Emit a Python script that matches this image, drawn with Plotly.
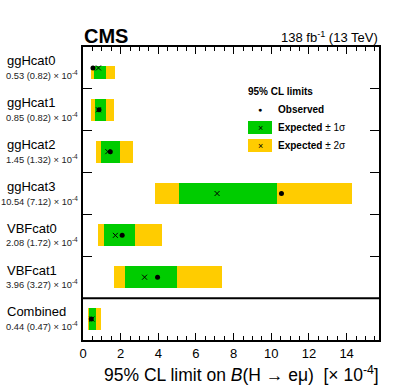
import plotly.graph_objects as go

categories = ["ggHcat0", "ggHcat1", "ggHcat2", "ggHcat3", "VBFcat0", "VBFcat1", "Combined"]
observed = [0.53, 0.85, 1.45, 10.54, 2.08, 3.96, 0.44]
expected = [0.82, 0.82, 1.32, 7.12, 1.72, 3.27, 0.47]
lo2 = [0.44, 0.44, 0.70, 3.80, 0.79, 1.62, 0.24]
lo1 = [0.61, 0.65, 0.93, 5.10, 1.14, 2.24, 0.33]
hi1 = [1.23, 1.21, 1.94, 10.29, 2.77, 4.99, 0.70]
hi2 = [1.71, 1.66, 2.65, 14.30, 4.21, 7.38, 0.95]
xticks = [0, 2, 4, 6, 8, 10, 12, 14]

n = len(categories)
ypos = [n - 1 - i for i in range(n)]  # top to bottom

GREEN = "#00cc00"
YELLOW = "#ffcc00"
FONT = "Liberation Sans, Arial, Helvetica, sans-serif"

# bar widths (first row partly hidden in the reference)
widths = [0.31] + [0.52] * (n - 1)
offsets = [-0.26] * n

fig = go.Figure()
fig.add_trace(go.Bar(
    orientation="h", y=ypos, base=lo2, x=[h - l for h, l in zip(hi2, lo2)],
    width=widths, offset=offsets, marker=dict(color=YELLOW, line=dict(width=0)),
    showlegend=False, hoverinfo="skip"))
fig.add_trace(go.Bar(
    orientation="h", y=ypos, base=lo1, x=[h - l for h, l in zip(hi1, lo1)],
    width=widths, offset=offsets, marker=dict(color=GREEN, line=dict(width=0)),
    showlegend=False, hoverinfo="skip"))
fig.add_trace(go.Scatter(
    x=expected, y=ypos, mode="markers",
    marker=dict(symbol="x-thin", size=5, line=dict(color="black", width=1)),
    showlegend=False))
fig.add_trace(go.Scatter(
    x=observed, y=ypos, mode="markers",
    marker=dict(symbol="circle", size=5, color="black"),
    showlegend=False))

L, R, T, B = 83, 20, 47, 47
W, H = 399, 387
PW, PH = W - L - R, H - T - B


def px(xp):
    return (xp - L) / PW


def py(yp):
    return (H - B - yp) / PH


ann = []
for i, c in enumerate(categories):
    yc = ypos[i]
    ann.append(dict(x=px(5), y=yc + 0.17, xref="paper", yref="y", text=c,
                    showarrow=False, xanchor="left", yanchor="middle",
                    font=dict(size=13, color="black", family=FONT)))
    ann.append(dict(x=px(80), y=yc - 0.17, xref="paper", yref="y",
                    text=f"{observed[i]:.2f} ({expected[i]:.2f}) × 10<sup>-4</sup>",
                    showarrow=False, xanchor="right", yanchor="middle",
                    font=dict(size=9.3, color="#222", family=FONT)))

ann += [
    dict(x=px(82), y=py(36), xref="paper", yref="paper", text="<b>CMS</b>",
         showarrow=False, xanchor="left", yanchor="middle",
         font=dict(size=20, color="black", family=FONT)),
    dict(x=px(380), y=py(37), xref="paper", yref="paper",
         text="138 fb<sup>-1</sup> (13 TeV)", showarrow=False,
         xanchor="right", yanchor="middle",
         font=dict(size=13, color="black", family=FONT)),
    dict(x=px(381), y=py(374), xref="paper", yref="paper",
         text="95% CL limit on <i>B</i>(H → eμ)  [× 10<sup>-4</sup>]",
         showarrow=False, xanchor="right", yanchor="middle",
         font=dict(size=17.5, color="black", family=FONT)),
    dict(x=px(246), y=py(91), xref="paper", yref="paper", text="<b>95% CL limits</b>",
         showarrow=False, xanchor="left", yanchor="middle",
         font=dict(size=10, color="black", family=FONT)),
    dict(x=px(276), y=py(109), xref="paper", yref="paper", text="<b>Observed</b>",
         showarrow=False, xanchor="left", yanchor="middle",
         font=dict(size=10, color="black", family=FONT)),
    dict(x=px(276), y=py(127.5), xref="paper", yref="paper", text="<b>Expected</b> ± 1σ",
         showarrow=False, xanchor="left", yanchor="middle",
         font=dict(size=10, color="black", family=FONT)),
    dict(x=px(276), y=py(145.5), xref="paper", yref="paper", text="<b>Expected</b> ± 2σ",
         showarrow=False, xanchor="left", yanchor="middle",
         font=dict(size=10, color="black", family=FONT)),
    dict(x=px(260), y=py(109), xref="paper", yref="paper", text="●",
         showarrow=False, xanchor="center", yanchor="middle",
         font=dict(size=7, color="black", family=FONT)),
    dict(x=px(260), y=py(127.5), xref="paper", yref="paper", text="×",
         showarrow=False, xanchor="center", yanchor="middle",
         font=dict(size=9, color="black", family=FONT)),
    dict(x=px(260), y=py(145.5), xref="paper", yref="paper", text="×",
         showarrow=False, xanchor="center", yanchor="middle",
         font=dict(size=9, color="black", family=FONT)),
]

shapes = [
    dict(type="rect", xref="paper", yref="paper", x0=px(248), x1=px(272),
         y0=py(121), y1=py(134), fillcolor=GREEN, line=dict(width=0), layer="below"),
    dict(type="rect", xref="paper", yref="paper", x0=px(248), x1=px(272),
         y0=py(139), y1=py(152), fillcolor=YELLOW, line=dict(width=0), layer="below"),
    dict(type="line", xref="paper", yref="y", x0=0, x1=1, y0=0.5, y1=0.5,
         line=dict(color="black", width=2)),
]

fig.update_layout(
    width=W, height=H,
    margin=dict(l=L, r=R, t=T, b=B),
    paper_bgcolor="white", plot_bgcolor="white",
    barmode="overlay", bargap=0,
    showlegend=False,
    font=dict(family=FONT, color="black"),
    annotations=ann, shapes=shapes,
    xaxis=dict(range=[0, 15.72], tickvals=xticks, ticks="inside", ticklen=7,
               tickwidth=1, tickcolor="black",
               minor=dict(dtick=0.5, ticks="inside", ticklen=4, tickcolor="black", showgrid=False),
               mirror="allticks", showline=True, linewidth=2, linecolor="black",
               showgrid=False, zeroline=False,
               tickfont=dict(size=13, family=FONT, color="black")),
    yaxis=dict(range=[-0.5, 6.5], tickvals=[1.5, 2.5, 3.5, 4.5, 5.5],
               ticks="inside", ticklen=9, tickwidth=1, tickcolor="black",
               showticklabels=False, mirror="allticks", showline=True,
               linewidth=2, linecolor="black", showgrid=False, zeroline=False),
)

fig.write_html("out.html", config={"displayModeBar": False},
               post_script="document.body.style.margin='0';")
